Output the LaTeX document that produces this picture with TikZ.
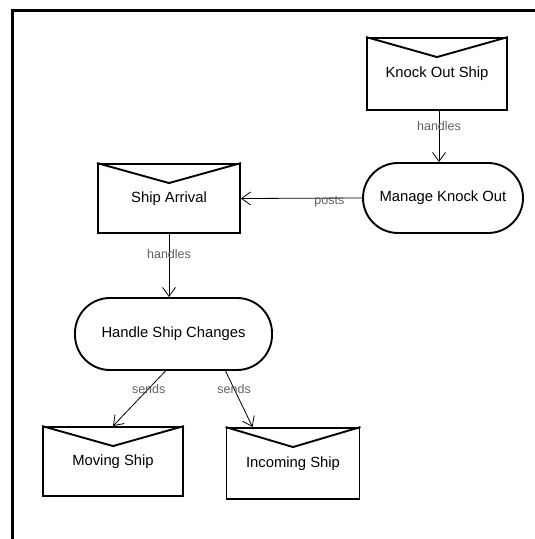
\documentclass[tikz,border=0pt]{standalone}
\usepackage{fontspec}
\setmainfont{Liberation Sans}
\usetikzlibrary{arrows.meta,calc}
\begin{document}
\begin{tikzpicture}[x=1pt,y=-1pt,
  every node/.style={font=\fontsize{14.8}{17}\selectfont, inner sep=0pt},
  envelope/.style={draw, line width=1.9pt, rectangle, minimum width=140pt, minimum height=70pt},
  flap/.style={line width=1.9pt, line join=miter},
  activity/.style={draw, line width=1.9pt, rectangle, rounded corners=35pt, minimum height=70pt},
  link/.style={draw, line width=0.8pt, -{Straight Barb[length=9pt,width=13pt]}},
  tag/.style={font=\fontsize{12.5}{14}\selectfont, text=black!62}]
  \useasboundingbox (0,0) rectangle (535,539);
  % outer frame, open to the right and bottom
  \draw[line width=2.5pt] (12.5,539) -- (12.5,10.5) -- (535,10.5);

  % messages
  \node[envelope, minimum width=140pt, minimum height=72pt] (kos) at (437,74) {Knock Out Ship};
  \node[envelope, minimum width=142pt, minimum height=69pt] (sa) at (169,198.5) {Ship Arrival};
  \node[envelope, minimum width=140pt, minimum height=69pt] (ms) at (113,461.5) {Moving Ship};
  \node[envelope, minimum width=133pt, minimum height=71pt] (is) at (293,463.5) {Incoming Ship};
  \foreach \n in {kos,sa,ms,is}
    \draw[flap] (\n.north west) -- ($(\n.north)+(0,20)$) -- (\n.north east);

  % handlers
  \node[activity, minimum width=160pt] (mko) at (443,198) {Manage Knock Out};
  \node[activity, minimum width=197pt, minimum height=72pt] (hsc) at (173.5,334) {Handle Ship Changes};

  % connectors
  \draw[link] ($(kos.south)+(2,0)$) coordinate (k1) -- (k1 |- mko.north)
    node[tag, pos=0.3] {handles};
  \draw[link] (mko.west) -- (sa.east)
    node[tag, pos=0.27, yshift=-4pt] {posts};
  \draw[link] (sa.south) -- (sa.south |- hsc.north)
    node[tag, pos=0.32] {handles};
  \coordinate (h1) at ($(hsc.south)+(-8,0)$);
  \coordinate (h2) at ($(hsc.south)+(52,0)$);
  \coordinate (i1) at ($(is.north west)+(27,0)$);
  \draw[link] (h1) -- (ms.north) node[tag, pos=0.32] {sends};
  \draw[link] (h2) -- (i1) node[tag, pos=0.32] {sends};
\end{tikzpicture}
\end{document}
